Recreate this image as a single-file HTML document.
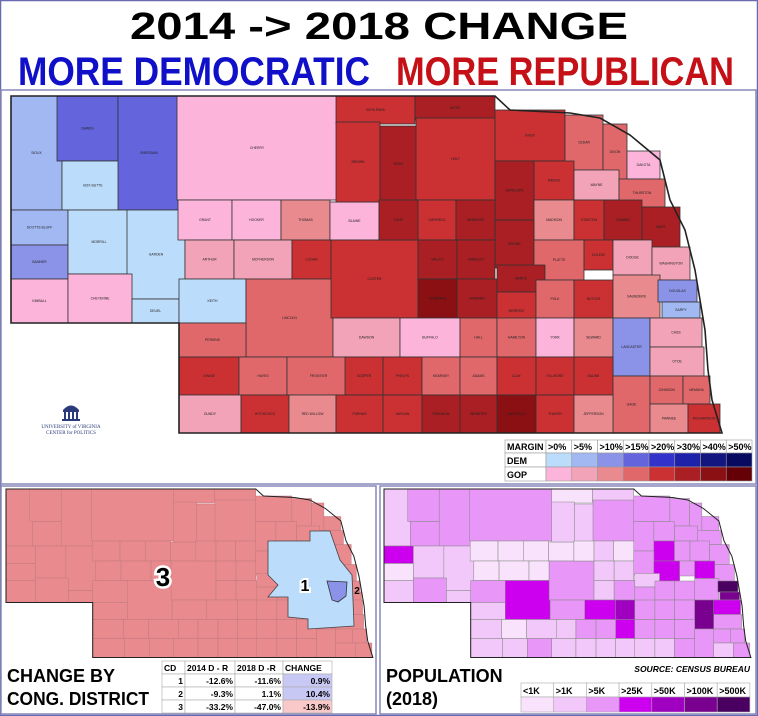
<!DOCTYPE html>
<html><head><meta charset="utf-8"><style>
html,body{margin:0;padding:0;background:#fff;}
svg{display:block;font-family:"Liberation Sans",sans-serif;}
</style></head><body>
<svg id="s" width="758" height="716" viewBox="0 0 758 716" xmlns="http://www.w3.org/2000/svg">
<rect x="0.5" y="0.5" width="757" height="715" fill="#fff" stroke="#6a6ab0" stroke-width="1.5"/>
<text x="130" y="39" font-size="38" font-weight="bold" textLength="498" lengthAdjust="spacingAndGlyphs">2014 -&gt; 2018 CHANGE</text>
<text x="18" y="85" font-size="40" font-weight="bold" fill="#1010c8" textLength="352" lengthAdjust="spacingAndGlyphs">MORE DEMOCRATIC</text>
<text x="396" y="85" font-size="40" font-weight="bold" fill="#c41016" textLength="338" lengthAdjust="spacingAndGlyphs">MORE REPUBLICAN</text>
<rect x="1" y="90" width="755" height="394" fill="none" stroke="#8888bb" stroke-width="1.5"/>
<g id="main"></g>
<g id="cd"></g>
<g id="pop"></g>
<!-- UVA logo -->
<g fill="#2a3a7a">
<path d="M63 410 Q71 401 79 410 Z"/>
<rect x="63" y="410" width="16" height="2"/>
<rect x="64" y="412" width="2" height="7"/><rect x="68" y="412" width="2" height="7"/><rect x="72" y="412" width="2" height="7"/><rect x="76" y="412" width="2" height="7"/>
<rect x="62" y="419" width="18" height="2"/>
<text x="71" y="428" font-size="5" text-anchor="middle" font-family="Liberation Serif,serif">UNIVERSITY of VIRGINIA</text>
<text x="71" y="434" font-size="5" text-anchor="middle" font-family="Liberation Serif,serif">CENTER for POLITICS</text>
</g>
<!-- legend -->
<g id="leg" font-size="9" font-weight="bold"></g>
<!-- bottom panels -->
<rect x="1" y="486" width="375" height="228" fill="none" stroke="#8888bb" stroke-width="1.5"/>
<rect x="380" y="486" width="376" height="228" fill="none" stroke="#8888bb" stroke-width="1.5"/>
<text x="7" y="682" font-size="18" font-weight="bold">CHANGE BY</text>
<text x="7" y="705" font-size="18" font-weight="bold" textLength="142" lengthAdjust="spacingAndGlyphs">CONG. DISTRICT</text>
<g id="cdt" font-size="8.5" font-weight="bold"></g>
<text x="386" y="682" font-size="18" font-weight="bold">POPULATION</text>
<text x="386" y="705" font-size="18" font-weight="bold">(2018)</text>
<text x="750" y="672" font-size="8.5" font-weight="bold" font-style="italic" text-anchor="end">SOURCE: CENSUS BUREAU</text>
<g id="popl" font-size="9" font-weight="bold"></g>
</svg>
<script>
var M={D1:"#bcdcfb",D2:"#a2b8f2",D3:"#8b93e8",D4:"#6464dc",R1:"#fcb4da",R2:"#f2a3b7",R3:"#e98a8e",R4:"#e0686a",R5:"#cb3032",R6:"#a91f23",R7:"#8a1014"};
var P={1:"#f9e2fb",2:"#f2c8fa",3:"#e896f7",4:"#cc00ee",5:"#a000c0",6:"#7a0090",7:"#4a0060"};
var C=[
["SIOUX",11,96,62,210,"D2",2],["DAWES",57,96,118,161,"D4",3],["BOX BUTTE",62,161,124,210,"D1",3],["SHERIDAN",118,96,180,210,"D4",3],
["CHERRY",177,96,337,200,"R1",3],["SCOTTS BLUFF",11,210,68,245,"D2",4],["BANNER",11,245,68,279,"D3",1],["MORRILL",68,210,130,274,"D1",2],
["GARDEN",127,210,185,299,"D1",2],["KIMBALL",11,279,68,323,"R1",2],["CHEYENNE",68,274,132,323,"R1",3],["DEUEL",132,299,179,323,"D1",2],
["GRANT",178,200,232,240,"R1",1],["HOOKER",232,200,281,240,"R1",1],["THOMAS",281,200,330,240,"R3",1],["BLAINE",330,202,379,240,"R1",1],
["ARTHUR",185,240,234,279,"R2",1],["MCPHERSON",234,240,292,279,"R2",1],["LOGAN",292,240,331,279,"R5",1],["KEITH",179,279,246,323,"D1",3],
["LINCOLN",246,279,333,357,"R4",4],["PERKINS",179,323,246,357,"R4",2],["CUSTER",331,240,418,318,"R5",3],["DAWSON",333,318,400,357,"R2",3],
["CHASE",179,357,239,395,"R5",2],["HAYES",239,357,287,395,"R4",1],["FRONTIER",287,357,350,395,"R4",2],["GOSPER",345,357,383,395,"R5",2],
["DUNDY",179,395,241,433,"R2",2],["HITCHCOCK",241,395,289,433,"R5",2],["RED WILLOW",289,395,336,433,"R3",3],["FURNAS",336,395,383,433,"R5",2],
["KEYA PAHA",336,96,415,124,"R5",1],["BOYD",415,96,495,120,"R6",2],["BROWN",336,122,380,202,"R5",2],["ROCK",380,126,417,202,"R6",2],
["HOLT",416,118,495,200,"R5",3],["KNOX",495,110,565,161,"R5",3],["CEDAR",565,115,603,170,"R4",3],["DIXON",603,124,627,180,"R4",3],
["DAKOTA",627,151,660,179,"R1",3],["ANTELOPE",495,161,534,220,"R6",3],["PIERCE",534,161,574,200,"R5",3],["WAYNE",574,170,619,200,"R2",3],
["THURSTON",619,179,665,207,"R4",3],["LOUP",379,200,418,240,"R6",1],["GARFIELD",418,200,456,240,"R5",2],["WHEELER",456,200,495,240,"R6",1],
["MADISON",534,200,574,240,"R3",4],["STANTON",574,200,604,240,"R5",3],["CUMING",604,200,642,240,"R6",3],["BURT",642,207,680,247,"R6",3],
["BOONE",495,220,534,268,"R6",3],["VALLEY",418,240,457,279,"R6",2],["GREELEY",457,240,495,279,"R6",2],["PLATTE",534,240,584,280,"R4",4],
["COLFAX",584,240,613,270,"R5",3],["DODGE",613,240,652,275,"R2",4],["WASHINGTON",652,247,690,280,"R2",3],["NANCE",497,265,545,292,"R6",2],
["SHERMAN",418,279,457,318,"R7",2],["HOWARD",457,279,497,318,"R6",3],["MERRICK",497,292,536,330,"R5",3],["POLK",536,280,574,318,"R4",3],
["BUTLER",574,280,613,318,"R5",3],["SAUNDERS",613,275,660,318,"R3",3],["DOUGLAS",658,280,697,302,"D3",7],["SARPY",662,302,700,318,"D2",6],
["BUFFALO",400,318,460,357,"R1",4],["HALL",460,318,497,357,"R4",5],["HAMILTON",497,318,536,357,"R4",3],["YORK",536,318,574,357,"R1",3],
["SEWARD",574,318,613,357,"R3",3],["LANCASTER",613,318,650,376,"D3",6],["CASS",650,318,702,347,"R2",4],["OTOE",650,347,704,376,"R2",3],
["PHELPS",383,357,422,395,"R5",3],["KEARNEY",422,357,460,395,"R4",3],["ADAMS",460,357,497,395,"R4",4],["CLAY",497,357,536,395,"R5",3],
["FILLMORE",536,357,574,395,"R5",3],["SALINE",574,357,613,395,"R5",3],["GAGE",613,376,650,433,"R4",3],["JOHNSON",650,376,683,404,"R4",3],
["NEMAHA",683,376,710,404,"R4",3],["PAWNEE",650,404,688,433,"R3",2],["RICHARDSON",688,404,720,433,"R5",3],["HARLAN",383,395,422,433,"R5",2],
["FRANKLIN",422,395,460,433,"R6",2],["WEBSTER",460,395,497,433,"R6",2],["NUCKOLLS",497,395,536,433,"R7",2],["THAYER",536,395,574,433,"R5",2],
["JEFFERSON",574,395,613,433,"R3",3]];
var NS="http://www.w3.org/2000/svg";
function el(p,t,a,txt){var e=document.createElementNS(NS,t);for(var k in a)e.setAttribute(k,a[k]);if(txt!=null)e.textContent=txt;p.appendChild(e);return e;}
var outline="11,96 495,96 510,110 570,113 600,118 630,135 660,160 670,200 685,230 695,270 700,300 705,330 708,370 712,400 722,433 179,433 179,323 11,323";
function draw(g,col,tf,labels,sw,oc){
  var gg=el(g,"g",{transform:tf});
  C.forEach(function(c){var f=col(c);el(gg,"rect",{x:c[1],y:c[2],width:c[3]-c[1],height:c[4]-c[2],fill:f,stroke:oc,"stroke-width":sw});
   if(labels)el(gg,"text",{x:(c[1]+c[3])/2,y:(c[2]+c[4])/2+1.2,"font-size":3.4,"text-anchor":"middle",fill:"#222"},c[0]);});
  el(gg,"polygon",{points:outline,fill:"none",stroke:"#222","stroke-width":sw*2});
  return gg;
}
draw(document.getElementById("main"),function(c){return M[c[5]];},"",true,0.8,"#333");
var tfs="translate(6,489) scale(0.516,0.5) translate(-11,-96)";
draw(document.getElementById("cd"),function(c){return "#e98a8e";},tfs,false,1,"#c07a80");
var cd=document.getElementById("cd");
el(cd,"polygon",{points:"268,541 310,541 310,531 330,531 340,560 352,575 354,626 308,629 308,619 288,617 288,597 268,597 278,585 268,575",fill:"#bcdcfb",stroke:"#444","stroke-width":0.8});
el(cd,"polygon",{points:"327,581 347,582 346,596 338,602 332,600",fill:"#8b93e8",stroke:"#333","stroke-width":0.8});
el(cd,"text",{x:163,y:586,"font-size":26,"font-weight":"bold","text-anchor":"middle",stroke:"#fff","stroke-width":5,"paint-order":"stroke"},"3");
el(cd,"text",{x:305,y:591,"font-size":16,"font-weight":"bold","text-anchor":"middle",stroke:"#fff","stroke-width":4,"paint-order":"stroke"},"1");
el(cd,"text",{x:357,y:594,"font-size":10,"font-weight":"bold","text-anchor":"middle"},"2");
draw(document.getElementById("pop"),function(c){return P[c[6]];},"translate(384,489) scale(0.516,0.5) translate(-11,-96)",false,1,"#888");
// margin legend
var lg=document.getElementById("leg");
var hd=["MARGIN",">0%",">5%",">10%",">15%",">20%",">30%",">40%",">50%"];
var dc=["#bcdcfb","#a2b8f2","#8b93e8","#6464dc","#3333cc","#1e22a8","#141680","#070a60"];
var rc=["#fcb4da","#f2a3b7","#e98a8e","#e0686a","#cb3032","#a91f23","#8a1014","#650006"];
var xs=[505,546];for(var i=1;i<9;i++)xs.push(546+i*25.75);
for(var i=0;i<9;i++){var w=xs[i+1]-xs[i];
 el(lg,"rect",{x:xs[i],y:440,width:w,height:13,fill:"#fff",stroke:"#999","stroke-width":0.6});
 el(lg,"text",{x:xs[i]+2,y:450},hd[i]);
 el(lg,"rect",{x:xs[i],y:453,width:w,height:14,fill:i?dc[i-1]:"#fff",stroke:"#999","stroke-width":0.6});
 el(lg,"rect",{x:xs[i],y:467,width:w,height:14,fill:i?rc[i-1]:"#fff",stroke:"#999","stroke-width":0.6});}
el(lg,"text",{x:507,y:464},"DEM");el(lg,"text",{x:507,y:478},"GOP");
// cd table
var t=document.getElementById("cdt");
var cx=[162,185,235,283,332];
var rows=[["CD","2014 D - R","2018 D -R","CHANGE"],["1","-12.6%","-11.6%","0.9%"],["2","-9.3%","1.1%","10.4%"],["3","-33.2%","-47.0%","-13.9%"]];
rows.forEach(function(r,ri){var y=661+ri*13;
 for(var j=0;j<4;j++){var f="#fff";if(j==3&&ri>0)f=ri==3?"#f9c8c8":"#c8c8f4";
  el(t,"rect",{x:cx[j],y:y,width:cx[j+1]-cx[j],height:13,fill:f,stroke:"#aaa","stroke-width":0.6});
  if(ri==0)el(t,"text",{x:cx[j]+2,y:y+10},r[j]);else el(t,"text",{x:cx[j+1]-2,y:y+10,"text-anchor":"end"},r[j]);}});
// pop legend
var pl=document.getElementById("popl");var ph=["<1K",">1K",">5K",">25K",">50K",">100K",">500K"];
for(var i=0;i<7;i++){var x=521+i*32.7;
 el(pl,"rect",{x:x,y:683,width:32.7,height:14,fill:"#fff",stroke:"#aaa","stroke-width":0.6});
 el(pl,"text",{x:x+2,y:694},ph[i]);
 el(pl,"rect",{x:x,y:697,width:32.7,height:15,fill:P[i+1],stroke:"#aaa","stroke-width":0.6});}
</script>
</body></html>
